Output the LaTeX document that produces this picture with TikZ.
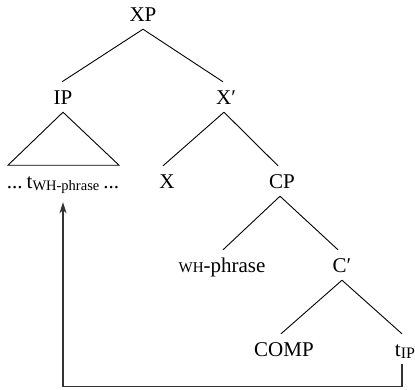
\documentclass[tikz,border=0pt]{standalone}
\usepackage{fontspec}
\setmainfont{Liberation Serif}
\usetikzlibrary{arrows.meta}
\tikzset{
  lbl/.style={anchor=base, inner xsep=0pt, inner ysep=8pt, text height=14pt, text depth=0pt,
    font=\fontsize{21}{24}\selectfont},
  edge/.style={line width=0.9pt},
  mv/.style={line width=1.2pt, draw=black!80, -{Stealth[length=11pt,width=7pt,inset=3pt]}}
}
\newcommand{\subsz}[1]{\raisebox{-2pt}{\fontsize{14.5}{15}\selectfont #1}}
\begin{document}
\begin{tikzpicture}[x=1pt,y=-1pt]
\useasboundingbox (0,0) rectangle (415,389);
\clip (0,0) rectangle (415,389);
\node[lbl] (xp) at (143,21) {XP};
\node[lbl] (ip) at (63,104) {IP};
\node[lbl] (xb) at (226,104) {X′};
\node[lbl] (x) at (167,188) {X};
\node[lbl] (cp) at (282,188) {CP};
\node[lbl] (tr) at (63,188) {...\hspace{4pt}t\subsz{WH-phrase}\hspace{4pt}...};
\node[lbl] (wh) at (222,272) {{\fontsize{15}{15}\selectfont WH}-phrase};
\node[lbl] (cb) at (342,272) {C′};
\node[lbl] (comp) at (284,356) {COMP};
\node[lbl] (tip) at (405,356) {t\raisebox{-2pt}{\fontsize{16}{16}\selectfont IP}};
\draw[edge] (xp.south) -- ([xshift=-1pt]ip.north);
\draw[edge] (xp.south) -- ([xshift=-3pt]xb.north);
\draw[edge] ([xshift=-2pt]xb.south) -- ([xshift=-4pt]x.north);
\draw[edge] ([xshift=-2pt]xb.south) -- ([xshift=-4pt]cp.north);
\draw[edge] ([xshift=-2pt]cp.south) -- ([xshift=1pt]wh.north);
\draw[edge] ([xshift=-2pt]cp.south) -- ([xshift=-4pt]cb.north);
\draw[edge] (cb.south) -- ([xshift=-3pt]comp.north);
\draw[edge] (cb.south) -- ([xshift=-3pt]tip.north);
\draw[edge] (ip.south) -- ++(-55,53) -- ++(111,0) -- cycle;
\draw[mv] ([xshift=-3pt]tip.south) -- ++(0,22) -| ([yshift=-6pt]tr.south);
\end{tikzpicture}
\end{document}
